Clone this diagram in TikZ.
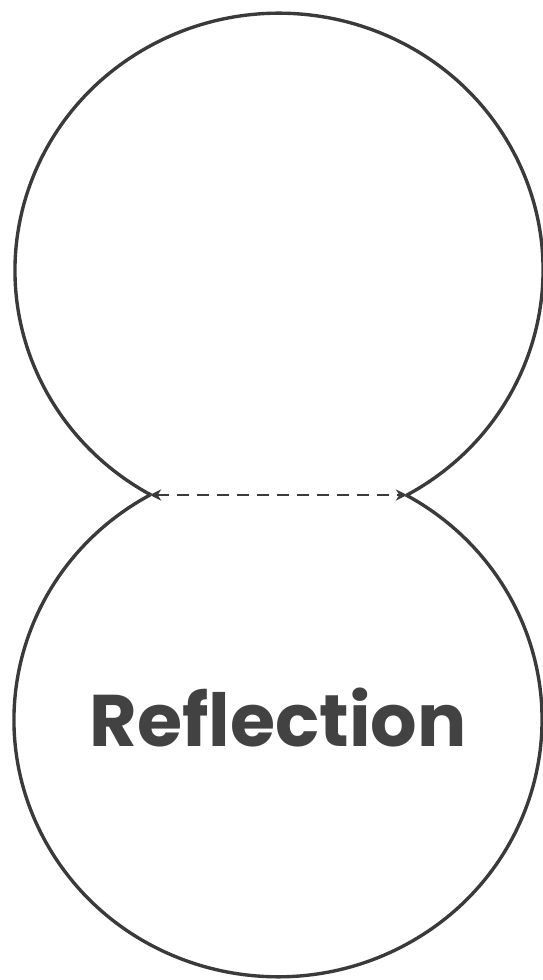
\documentclass[tikz,border=0pt]{standalone}
\usepackage{fontspec}
\usetikzlibrary{arrows.meta}
\newfontfamily\reflectfont{Poppins}
\definecolor{ReflectLine}{HTML}{3A3A3A}
\definecolor{ReflectText}{HTML}{424242}

\begin{document}
\begin{tikzpicture}[x=0.025cm,y=0.025cm]
    \useasboundingbox (0,0) rectangle (543,980);
    \coordinate (leftcusp) at (150,485);
    \coordinate (rightcusp) at (407,485);
    % upper and lower lobes
    \draw[ReflectLine,line width=2.4pt] (rightcusp) arc[start angle=-61,end angle=241,x radius=264,y radius=257];
    \draw[ReflectLine,line width=2.4pt] (leftcusp) arc[start angle=119,end angle=421,x radius=264,y radius=257];
    \draw[ReflectLine,line width=1.6pt,dash pattern=on 0.3cm off 0.2cm,{Stealth[length=8pt,width=8pt]}-{Stealth[length=8pt,width=8pt]}] (leftcusp) -- (rightcusp);
    \node[text=ReflectText,font=\reflectfont\bfseries\fontsize{52}{52}\selectfont] (title) at (278,262) {Reflection};
\end{tikzpicture}
\end{document}
